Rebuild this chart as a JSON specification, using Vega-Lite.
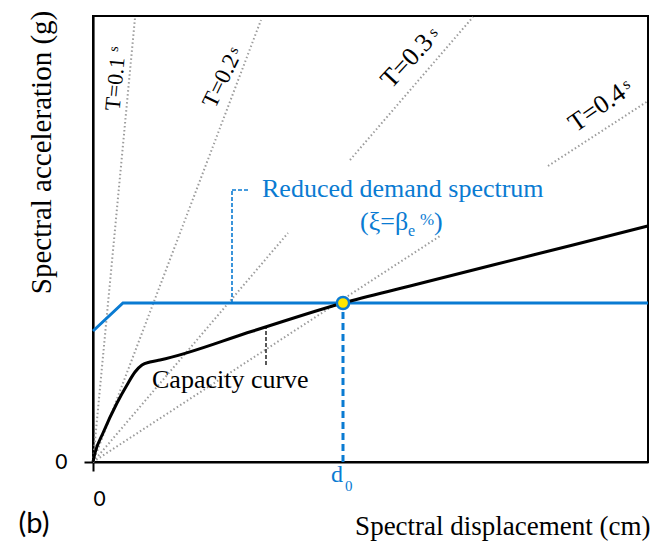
{
  "$schema": "https://vega.github.io/schema/vega-lite/v6.json",
  "width": 555,
  "height": 446,
  "autosize": {"type": "none"},
  "padding": {"left": 93, "top": 16, "right": 13, "bottom": 84},
  "background": "white",
  "config": {
    "view": {"stroke": "#000000", "strokeWidth": 2},
    "axis": {
      "domainColor": "#000000",
      "domainWidth": 2.2,
      "tickColor": "#000000",
      "tickWidth": 2,
      "tickSize": 9,
      "grid": false,
      "labelFont": "Lato",
      "labelFontSize": 21,
      "labelColor": "#000000",
      "titleFont": "Liberation Serif",
      "titleFontWeight": "normal",
      "titleColor": "#000000"
    }
  },
  "datasets": {
    "periods": [
      {"period": "T=0.1", "d": 0, "a": 0, "d2": 42, "a2": 444},
      {"period": "T=0.2", "d": 0, "a": 0, "d2": 168, "a2": 442},
      {"period": "T=0.3", "d": 0, "a": 0, "d2": 195, "a2": 229},
      {"period": "T=0.3", "d": 257, "a": 302, "d2": 380, "a2": 445},
      {"period": "T=0.4", "d": 0, "a": 0, "d2": 347, "a2": 226},
      {"period": "T=0.4", "d": 455, "a": 296, "d2": 555, "a2": 361}
    ],
    "demand": [
      {"d": 0, "a": 131},
      {"d": 30, "a": 159},
      {"d": 555, "a": 159}
    ],
    "capacity": [
      {"d": 0, "a": 0},
      {"d": 2, "a": 9},
      {"d": 10, "a": 29},
      {"d": 24, "a": 59},
      {"d": 34, "a": 77},
      {"d": 42, "a": 90},
      {"d": 49, "a": 97},
      {"d": 57, "a": 100},
      {"d": 67, "a": 102},
      {"d": 160, "a": 131},
      {"d": 250, "a": 159},
      {"d": 317, "a": 176},
      {"d": 400, "a": 197},
      {"d": 480, "a": 217},
      {"d": 555, "a": 236}
    ],
    "performance": [{"d": 250, "a": 159}],
    "demandLeader": [
      {"d": 139, "a": 159, "d2": 139, "a2": 272},
      {"d": 139, "a": 272, "d2": 157, "a2": 272}
    ],
    "capacityLeader": [{"d": 173, "a": 97, "d2": 173, "a2": 134}]
  },
  "encoding": {
    "x": {
      "field": "d",
      "type": "quantitative",
      "scale": {"domain": [0, 555], "nice": false, "zero": false},
      "axis": {
        "values": [0],
        "labelPadding": 17,
        "title": "Spectral displacement (cm)",
        "titleFontSize": 27,
        "titleAlign": "right",
        "titleBaseline": "alphabetic",
        "titleX": 557,
        "titleY": 72
      }
    },
    "y": {
      "field": "a",
      "type": "quantitative",
      "scale": {"domain": [0, 446], "nice": false, "zero": false},
      "axis": {
        "values": [0],
        "labelPadding": 17,
        "title": "Spectral acceleration (g)",
        "titleFontSize": 29,
        "titleAngle": -90,
        "titleAlign": "center",
        "titleBaseline": "alphabetic",
        "titleX": -43,
        "titleY": 136
      }
    }
  },
  "layer": [
    {
      "data": {"name": "periods"},
      "mark": {"type": "rule", "color": "#9c9c9c", "strokeWidth": 2, "strokeDash": [1.5, 2.5]},
      "encoding": {"x2": {"field": "d2"}, "y2": {"field": "a2"}, "detail": {"field": "period"}}
    },
    {
      "data": {"name": "demandLeader"},
      "mark": {"type": "rule", "color": "#0a7bd2", "strokeWidth": 1.6, "strokeDash": [4, 2]},
      "encoding": {"x2": {"field": "d2"}, "y2": {"field": "a2"}}
    },
    {
      "data": {"name": "capacityLeader"},
      "mark": {"type": "rule", "color": "#000000", "strokeWidth": 1.3, "strokeDash": [4, 2]},
      "encoding": {"x2": {"field": "d2"}, "y2": {"field": "a2"}}
    },
    {
      "data": {"name": "performance"},
      "mark": {"type": "rule", "color": "#0a7bd2", "strokeWidth": 3, "strokeDash": [7, 4]},
      "encoding": {"y": {"datum": 0}, "y2": {"field": "a"}}
    },
    {
      "data": {"name": "demand"},
      "mark": {"type": "line", "color": "#0a7bd2", "strokeWidth": 3}
    },
    {
      "data": {"name": "capacity"},
      "mark": {"type": "line", "color": "#000000", "strokeWidth": 3, "interpolate": "monotone"}
    },
    {
      "data": {"name": "performance"},
      "mark": {"type": "point", "shape": "circle", "filled": true, "fill": "#ffe500", "stroke": "#0a7bd2", "strokeWidth": 2.5, "size": 150, "opacity": 1}
    },
    {
      "data": {"values": [{"d": 22, "a": 378, "label": "T=0.1"}]},
      "mark": {"type": "text", "font": "Liberation Serif", "fontSize": 22, "angle": -84.6, "align": "center", "baseline": "middle", "color": "#000000"},
      "encoding": {"text": {"field": "label"}}
    },
    {
      "data": {"values": [{"d": 21, "a": 413, "label": "s"}]},
      "mark": {"type": "text", "font": "Liberation Serif", "fontSize": 14, "angle": -84.6, "align": "center", "baseline": "middle", "color": "#000000"},
      "encoding": {"text": {"field": "label"}}
    },
    {
      "data": {"values": [{"d": 128, "a": 381, "label": "T=0.2"}]},
      "mark": {"type": "text", "font": "Liberation Serif", "fontSize": 23, "angle": -64, "align": "center", "baseline": "middle", "color": "#000000"},
      "encoding": {"text": {"field": "label"}}
    },
    {
      "data": {"values": [{"d": 140, "a": 412, "label": "s"}]},
      "mark": {"type": "text", "font": "Liberation Serif", "fontSize": 15, "angle": -64, "align": "center", "baseline": "middle", "color": "#000000"},
      "encoding": {"text": {"field": "label"}}
    },
    {
      "data": {"values": [{"d": 314, "a": 401, "label": "T=0.3"}]},
      "mark": {"type": "text", "font": "Liberation Serif", "fontSize": 26, "angle": -47, "align": "center", "baseline": "middle", "color": "#000000"},
      "encoding": {"text": {"field": "label"}}
    },
    {
      "data": {"values": [{"d": 340, "a": 430, "label": "s"}]},
      "mark": {"type": "text", "font": "Liberation Serif", "fontSize": 16, "angle": -47, "align": "center", "baseline": "middle", "color": "#000000"},
      "encoding": {"text": {"field": "label"}}
    },
    {
      "data": {"values": [{"d": 504, "a": 354, "label": "T=0.4"}]},
      "mark": {"type": "text", "font": "Liberation Serif", "fontSize": 26, "angle": -35, "align": "center", "baseline": "middle", "color": "#000000"},
      "encoding": {"text": {"field": "label"}}
    },
    {
      "data": {"values": [{"d": 533, "a": 378, "label": "s"}]},
      "mark": {"type": "text", "font": "Liberation Serif", "fontSize": 16, "angle": -35, "align": "center", "baseline": "middle", "color": "#000000"},
      "encoding": {"text": {"field": "label"}}
    },
    {
      "data": {"values": [{"d": 169, "a": 265, "label": "Reduced demand spectrum"}]},
      "mark": {"type": "text", "font": "Liberation Serif", "fontSize": 26, "align": "left", "baseline": "alphabetic", "color": "#0a7bd2"},
      "encoding": {"text": {"field": "label"}}
    },
    {
      "data": {"values": [{"d": 267, "a": 232, "label": "(ξ=β"}]},
      "mark": {"type": "text", "font": "Liberation Serif", "fontSize": 26, "align": "left", "baseline": "alphabetic", "color": "#0a7bd2"},
      "encoding": {"text": {"field": "label"}}
    },
    {
      "data": {"values": [{"d": 315, "a": 226, "label": "e"}]},
      "mark": {"type": "text", "font": "Liberation Serif", "fontSize": 16, "align": "left", "baseline": "alphabetic", "color": "#0a7bd2"},
      "encoding": {"text": {"field": "label"}}
    },
    {
      "data": {"values": [{"d": 327, "a": 237, "label": "%"}]},
      "mark": {"type": "text", "font": "Liberation Serif", "fontSize": 17, "align": "left", "baseline": "alphabetic", "color": "#0a7bd2"},
      "encoding": {"text": {"field": "label"}}
    },
    {
      "data": {"values": [{"d": 341, "a": 232, "label": ")"}]},
      "mark": {"type": "text", "font": "Liberation Serif", "fontSize": 26, "align": "left", "baseline": "alphabetic", "color": "#0a7bd2"},
      "encoding": {"text": {"field": "label"}}
    },
    {
      "data": {"values": [{"d": 59, "a": 74, "label": "Capacity curve"}]},
      "mark": {"type": "text", "font": "Liberation Serif", "fontSize": 26, "align": "left", "baseline": "alphabetic", "color": "#000000"},
      "encoding": {"text": {"field": "label"}}
    },
    {
      "data": {"values": [{"d": 250, "a": 0, "label": "d"}]},
      "mark": {"type": "text", "font": "Liberation Serif", "fontSize": 24, "align": "center", "baseline": "alphabetic", "dx": -6, "dy": 20, "color": "#0a7bd2"},
      "encoding": {"text": {"field": "label"}}
    },
    {
      "data": {"values": [{"d": 250, "a": 0, "label": "0"}]},
      "mark": {"type": "text", "font": "Liberation Serif", "fontSize": 15, "align": "left", "baseline": "alphabetic", "dx": 2, "dy": 29, "color": "#0a7bd2"},
      "encoding": {"text": {"field": "label"}}
    },
    {
      "data": {"values": [{"d": 0, "a": 0, "label": "(b)"}]},
      "mark": {"type": "text", "font": "Lato", "fontSize": 29, "align": "center", "baseline": "alphabetic", "dx": -59, "dy": 71, "color": "#000000"},
      "encoding": {"text": {"field": "label"}}
    }
  ]
}
